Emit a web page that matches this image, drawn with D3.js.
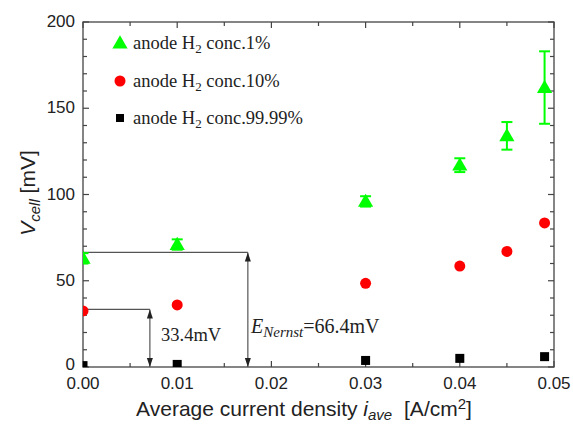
<!DOCTYPE html>
<html><head><meta charset="utf-8">
<script src="https://cdn.jsdelivr.net/npm/d3@7"></script>
<style>body{margin:0;background:#fff;} svg{display:block;}</style>
</head><body>
<svg id="c" width="573" height="424"></svg>
<script>
const xTicks = [0, 0.01, 0.02, 0.03, 0.04, 0.05];
const yTicks = [0, 50, 100, 150, 200];
const x1 = [0, 0.01, 0.03, 0.04, 0.045, 0.049];
const v1 = [63, 71, 96, 117, 134, 162];
const e1 = [3, 3, 3, 4, 8, 21];
const x10 = [0, 0.01, 0.03, 0.04, 0.045, 0.049];
const v10 = [32.5, 36, 48.5, 58.5, 67, 83.5];
const x99 = [0, 0.01, 0.03, 0.04, 0.049];
const v99 = [0.8, 1.5, 3.8, 5, 6];
const legendLabels = ["1%", "10%", "99.99%"];
const eNernst = 66.4, eHalf = 33.4;

const svg = d3.select("#c");
const L = 83, R = 554, T = 22, B = 367;
const x = d3.scaleLinear().domain([0, 0.05]).range([L, R]);
const y = d3.scaleLinear().domain([0, 200]).range([B, T]);
const axCol = "#444";
const sans = "Liberation Sans, Arial, sans-serif";
const serif = "Liberation Serif, Times New Roman, serif";

svg.append("defs").append("clipPath").attr("id","clip")
  .append("rect").attr("x",L).attr("y",T).attr("width",R-L).attr("height",B-T);

svg.append("rect").attr("x",L).attr("y",T).attr("width",R-L).attr("height",B-T)
  .attr("fill","none").attr("stroke",axCol).attr("stroke-width",1.3);

const xMinor = d3.range(0, 0.0501, 0.005);
const yMinor = d3.range(0, 201, 10);
const tg = svg.append("g").attr("stroke",axCol).attr("stroke-width",1.2);
xMinor.forEach((v,i)=>{
  const len = (i%2===0)?6:4;
  tg.append("line").attr("x1",x(v)).attr("x2",x(v)).attr("y1",B).attr("y2",B-len);
  tg.append("line").attr("x1",x(v)).attr("x2",x(v)).attr("y1",T).attr("y2",T+len);
});
yMinor.forEach((v,i)=>{
  const len = (i%5===0)?6:4;
  tg.append("line").attr("x1",L).attr("x2",L+len).attr("y1",y(v)).attr("y2",y(v));
  tg.append("line").attr("x1",R).attr("x2",R-len).attr("y1",y(v)).attr("y2",y(v));
});

const fmt = d3.format(".2f");
svg.append("g").selectAll("text").data(xTicks).join("text")
  .attr("x",d=>x(d)).attr("y",B+22).attr("text-anchor","middle")
  .attr("font-family",sans).attr("font-size",17).attr("fill","#222")
  .text(d=>fmt(d));
svg.append("g").selectAll("text").data(yTicks).join("text")
  .attr("x",L-8).attr("y",d=>y(d)+(d===0?3:5)).attr("text-anchor","end")
  .attr("font-family",sans).attr("font-size",17).attr("fill","#222")
  .text(d=>d);

// axis titles
const xt = svg.append("text").attr("x",304).attr("y",416).attr("text-anchor","middle")
  .attr("font-family",sans).attr("font-size",21).attr("fill","#222");
xt.append("tspan").text("Average current density ");
xt.append("tspan").attr("font-style","italic").text("i");
xt.append("tspan").attr("font-style","italic").attr("font-size",15).attr("dy",4).text("ave");
xt.append("tspan").attr("dy",-4).attr("dx",6).text(" [A/cm");
xt.append("tspan").attr("font-size",15).attr("dy",-7).text("2");
xt.append("tspan").attr("dy",7).text("]");

const yt = svg.append("text").attr("transform","translate(35,193) rotate(-90)").attr("text-anchor","middle")
  .attr("font-family",sans).attr("font-size",21).attr("fill","#222");
yt.append("tspan").attr("font-style","italic").text("V");
yt.append("tspan").attr("font-style","italic").attr("font-size",15).attr("dy",5).text("cell");
yt.append("tspan").attr("dy",-5).text(" [mV]");

// annotations
const ann = svg.append("g").attr("stroke","#555").attr("stroke-width",1.2).attr("fill","none");
const xa1 = 0.0175, xa2 = 0.0071;
ann.append("line").attr("x1",x(0)).attr("x2",x(xa1)).attr("y1",y(eNernst)).attr("y2",y(eNernst));
ann.append("line").attr("x1",x(xa1)).attr("x2",x(xa1)).attr("y1",y(eNernst)).attr("y2",y(0));
ann.append("line").attr("x1",x(0)).attr("x2",x(xa2)).attr("y1",y(eHalf)).attr("y2",y(eHalf));
ann.append("line").attr("x1",x(xa2)).attr("x2",x(xa2)).attr("y1",y(eHalf)).attr("y2",y(0));
function arrowHead(px, py, dir){
  svg.append("path").attr("d",`M${px},${py} L${px-3},${py-dir*9} L${px+3},${py-dir*9} Z`).attr("fill","#222");
}
arrowHead(x(xa1), y(eNernst), -1); arrowHead(x(xa1), y(0), 1);
arrowHead(x(xa2), y(eHalf), -1); arrowHead(x(xa2), y(0), 1);

svg.append("text").attr("x",161).attr("y",341).attr("font-family",serif)
  .attr("font-size",18.5).attr("fill","#222").text("33.4mV");
const en = svg.append("text").attr("x",251).attr("y",333).attr("font-family",serif)
  .attr("font-size",20).attr("fill","#222");
en.append("tspan").attr("font-style","italic").text("E");
en.append("tspan").attr("font-style","italic").attr("font-size",15).attr("dy",4).text("Nernst");
en.append("tspan").attr("dy",-4).text("=66.4mV");

// data
const plot = svg.append("g").attr("clip-path","url(#clip)");
const green = "#00ff00", red = "#ff0000";
const tri = d3.symbol().type(d3.symbolTriangle).size(100);
const d1 = x1.map((v,i)=>({x:v,y:v1[i],e:e1[i]}));
plot.selectAll(".eb").data(d1).join("g").each(function(d){
  const g = d3.select(this).attr("stroke",green).attr("stroke-width",2);
  g.append("line").attr("x1",x(d.x)).attr("x2",x(d.x)).attr("y1",y(d.y-d.e)).attr("y2",y(d.y+d.e));
  g.append("line").attr("x1",x(d.x)-5.5).attr("x2",x(d.x)+5.5).attr("y1",y(d.y-d.e)).attr("y2",y(d.y-d.e));
  g.append("line").attr("x1",x(d.x)-5.5).attr("x2",x(d.x)+5.5).attr("y1",y(d.y+d.e)).attr("y2",y(d.y+d.e));
});
plot.selectAll(".t").data(d1).join("path").attr("d",tri)
  .attr("transform",d=>`translate(${x(d.x)},${y(d.y)+1})`).attr("fill",green);
plot.selectAll(".c").data(x10.map((v,i)=>({x:v,y:v10[i]}))).join("circle")
  .attr("cx",d=>x(d.x)).attr("cy",d=>y(d.y)).attr("r",5.5).attr("fill",red);
plot.selectAll(".s").data(x99.map((v,i)=>({x:v,y:v99[i]}))).join("rect")
  .attr("x",d=>x(d.x)-4.5).attr("y",d=>y(d.y)-4.5).attr("width",9).attr("height",9).attr("fill","#000");

// legend
const lg = svg.append("g");
const ly = [43, 81, 118];
lg.append("path").attr("d",tri).attr("transform",`translate(120,${ly[0]+1})`).attr("fill",green);
lg.append("circle").attr("cx",120).attr("cy",ly[1]).attr("r",5.5).attr("fill",red);
lg.append("rect").attr("x",116).attr("y",ly[2]-4).attr("width",8).attr("height",8).attr("fill","#000");
legendLabels.forEach((lab,i)=>{
  const t = lg.append("text").attr("x",133).attr("y",ly[i]+6).attr("font-family",serif)
    .attr("font-size",18.5).attr("fill","#222");
  t.append("tspan").text("anode H");
  t.append("tspan").attr("font-size",13).attr("dy",4).text("2");
  t.append("tspan").attr("dy",-4).text(" conc." + lab);
});
</script>
</body></html>
